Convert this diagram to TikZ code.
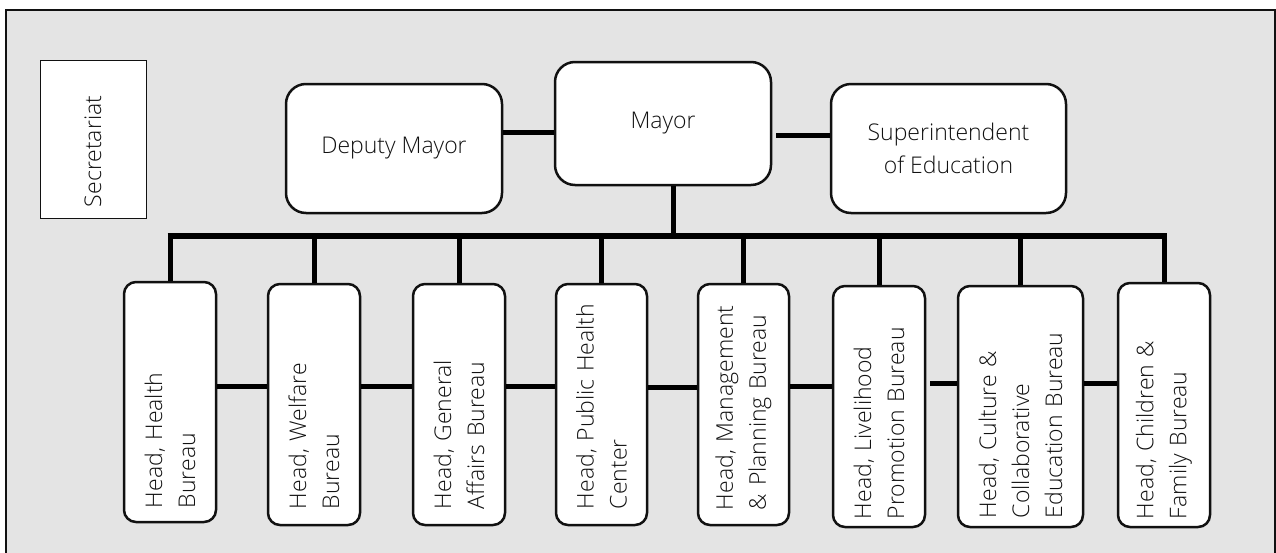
\documentclass[tikz,border=0pt]{standalone}
\usepackage{fontspec}
\setmainfont{Open Sans}[UprightFont={* Light}]
\hyphenpenalty=10000
\exhyphenpenalty=10000
\definecolor{panel}{HTML}{E4E4E4}
\definecolor{ink}{HTML}{111111}
\begin{document}
\begin{tikzpicture}[x=1pt,y=-1pt,
  txt/.style={font=\fontsize{23}{33}\selectfont, text=ink},
  topbox/.style={txt, draw=ink, line width=2.5, fill=white, rounded corners=20, align=center},
  secbox/.style={txt, draw=ink, line width=1, fill=white, rotate=90, align=left},
  headbox/.style={txt, draw=ink, line width=2.5, fill=white, rounded corners=12,
                  rotate=90, align=left, inner ysep=0},
  link/.style={line width=5, draw=black}]
\useasboundingbox (0,0) rectangle (1276,552);

% panel
\draw[line width=2, draw=ink, fill=panel] (6,10) rectangle (1275,570);

% top level
\node[secbox, minimum height=106, inner xsep=11, text width=136] (sec) at (93,139) {Secretariat};
\node[topbox, minimum width=216, minimum height=129] (deputy) at (394,148.5) {Deputy Mayor};
\node[topbox, minimum width=216, minimum height=123] (mayor) at (663,123.5) {Mayor};
\node[topbox, minimum width=235, minimum height=129] (super) at (948.5,148.5) {Superintendent\\of Education};

% bureau heads
\node[headbox, minimum height=92, inner xsep=14, text width=212] (b1) at (170,402) {Head,~Health\\Bureau};
\node[headbox, minimum height=92, inner xsep=16, text width=209] (b2) at (314,404.5) {Head,~Welfare\\Bureau};
\node[headbox, minimum height=92, inner xsep=16, text width=209] (b3) at (459,404.5) {Head,~General\\Affairs~Bureau};
\node[headbox, minimum height=91, inner xsep=16, text width=209] (b4) at (601.5,404.5) {Head,~Public~Health\\Center};
\node[headbox, minimum height=91, inner xsep=15, text width=211] (b5) at (743.5,404.5) {Head,~Management\\\&~Planning~Bureau};
\node[headbox, minimum height=92, inner xsep=8, text width=225] (b6) at (879,406.5) {Head,~Livelihood\\Promotion~Bureau};
\node[headbox, minimum height=125, inner xsep=9, text width=223] (b7) at (1020.5,406.5) {Head,~Culture~\&\\Collaborative\\Education~Bureau};
\node[headbox, minimum height=92, inner xsep=8, text width=228] (b8) at (1164,405) {Head,~Children~\&\\Family~Bureau};

% connectors
\coordinate (busL) at (167.5,236);
\coordinate (busR) at (1161.5,236);
\coordinate (busTop) at (0,233);
\draw[link, line width=5.5] (busL) -- (busR);
\draw[link] ([xshift=10]mayor.south) -- ([xshift=10]mayor.south |- busL);
\draw[link] (deputy.east |- 0,132) -- (mayor.west |- 0,132);
\draw[link, shorten <=4] (mayor.east |- 0,135) -- (super.west |- 0,135);

\foreach \b in {b1,b2,b3,b4,b5,b6,b7,b8}
  \draw[link] (\b.east) -- (\b.east |- busTop);

\draw[link] (b1.south |- 0,386) -- (b2.north |- 0,386);
\draw[link] (b2.south |- 0,386) -- (b3.north |- 0,386);
\draw[link] (b3.south |- 0,386) -- (b4.north |- 0,386);
\draw[link] (b4.south |- 0,387) -- (b5.north |- 0,387);
\draw[link] (b5.south |- 0,386) -- (b6.north |- 0,386);
\draw[link, shorten <=4] (b6.south |- 0,383) -- (b7.north |- 0,383);
\draw[link] (b7.south |- 0,383) -- (b8.north |- 0,383);
\end{tikzpicture}
\end{document}
